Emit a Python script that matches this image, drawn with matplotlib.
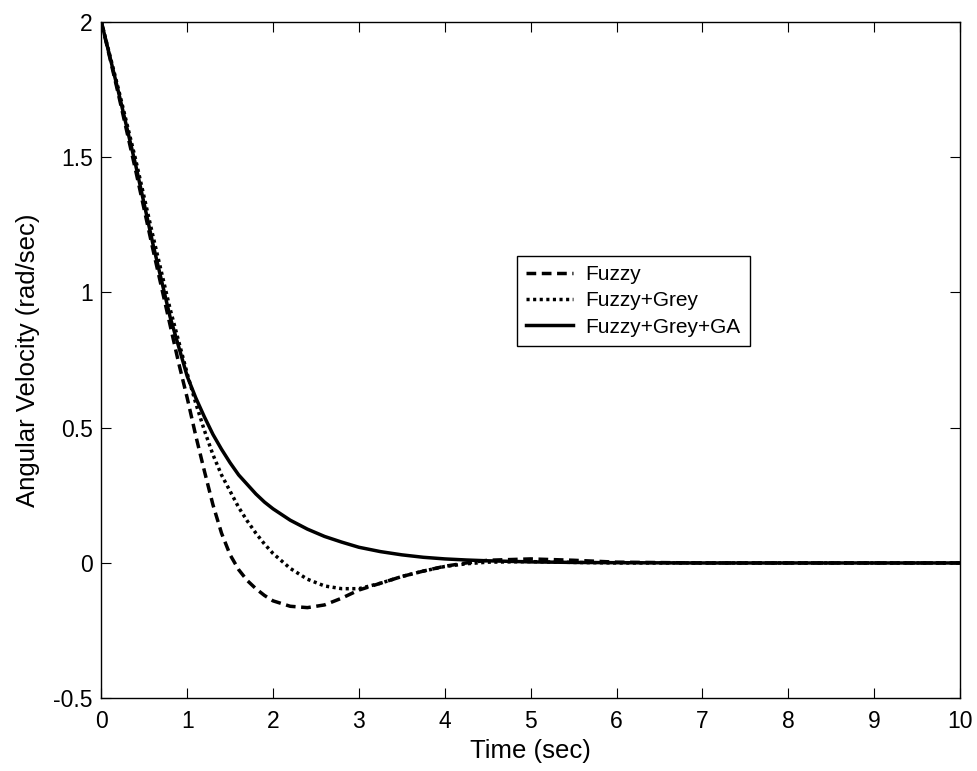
import matplotlib.pyplot as plt

plt.rcParams['font.family'] = ['Liberation Sans', 'DejaVu Sans']

# time points and curves
tempo = [0, 0.2, 0.4, 0.6, 0.8, 0.9, 1.0, 1.1, 1.2, 1.3, 1.4, 1.5, 1.6, 1.7, 1.8, 1.9,
         2.0, 2.2, 2.4, 2.6, 2.8, 3.0, 3.25, 3.5, 3.75, 4.0, 4.25, 4.5, 5.0, 5.5, 6.0,
         7.0, 8.0, 9.0, 10.0]

fuzzy = [2.0, 1.73, 1.45, 1.16, 0.88, 0.74, 0.61, 0.47, 0.34, 0.215, 0.11, 0.03, -0.025,
         -0.065, -0.095, -0.12, -0.14, -0.16, -0.165, -0.155, -0.13, -0.10, -0.075,
         -0.05, -0.03, -0.012, 0.0, 0.01, 0.015, 0.01, 0.003, 0.0, 0.0, 0.0, 0.0]

fuzzy_grey = [2.0, 1.75, 1.49, 1.21, 0.94, 0.82, 0.70, 0.59, 0.49, 0.40, 0.325, 0.265,
              0.205, 0.155, 0.11, 0.07, 0.035, -0.02, -0.06, -0.085, -0.095, -0.095,
              -0.075, -0.05, -0.03, -0.013, -0.003, 0.003, 0.005, 0.002, 0.0,
              0.0, 0.0, 0.0, 0.0]

fuzzy_grey_ga = [2.0, 1.74, 1.47, 1.18, 0.91, 0.80, 0.69, 0.61, 0.54, 0.475, 0.42, 0.37,
                 0.325, 0.29, 0.255, 0.225, 0.20, 0.158, 0.125, 0.098, 0.077, 0.058,
                 0.042, 0.03, 0.021, 0.015, 0.011, 0.008, 0.004, 0.002, 0.001,
                 0.0, 0.0, 0.0, 0.0]

rotulos = ['Fuzzy', 'Fuzzy+Grey', 'Fuzzy+Grey+GA']

fig = plt.figure(figsize=(9.78, 7.71), dpi=100)
ax = fig.add_axes([0.1036, 0.0943, 0.878, 0.8776])

ax.plot(tempo, fuzzy, color='black', lw=2.5, dashes=(2.8, 1.6), label=rotulos[0])
ax.plot(tempo, fuzzy_grey, color='black', lw=2.5, dashes=(0.9, 1.0), label=rotulos[1])
ax.plot(tempo, fuzzy_grey_ga, color='black', lw=2.5, label=rotulos[2])

ax.set_xlim(0, 10)
ax.set_ylim(-0.5, 2)
ax.set_xticks(range(0, 11))
ax.set_yticks([-0.5, 0, 0.5, 1, 1.5, 2])
ax.set_yticklabels(['-0.5', '0', '0.5', '1', '1.5', '2'])

ax.tick_params(direction='in', length=7, width=0.8, top=True, right=True, labelsize=16.5)
ax.tick_params(axis='x', pad=8.5)
ax.tick_params(axis='y', pad=6)
for s in ax.spines.values():
    s.set_linewidth(1.0)

ax.set_xlabel('Time (sec)', fontsize=18.5, labelpad=4)
ax.set_ylabel('Angular Velocity (rad/sec)', fontsize=18.5, labelpad=10)

leg = ax.legend(loc='upper left', bbox_to_anchor=(0.484, 0.653), borderaxespad=0,
                fontsize=15, handlelength=2.25, handletextpad=0.63, labelspacing=0.35,
                borderpad=0.42, fancybox=False, framealpha=1, edgecolor='black')
leg.get_frame().set_linewidth(1.0)

plt.savefig('out.png', dpi=100)
